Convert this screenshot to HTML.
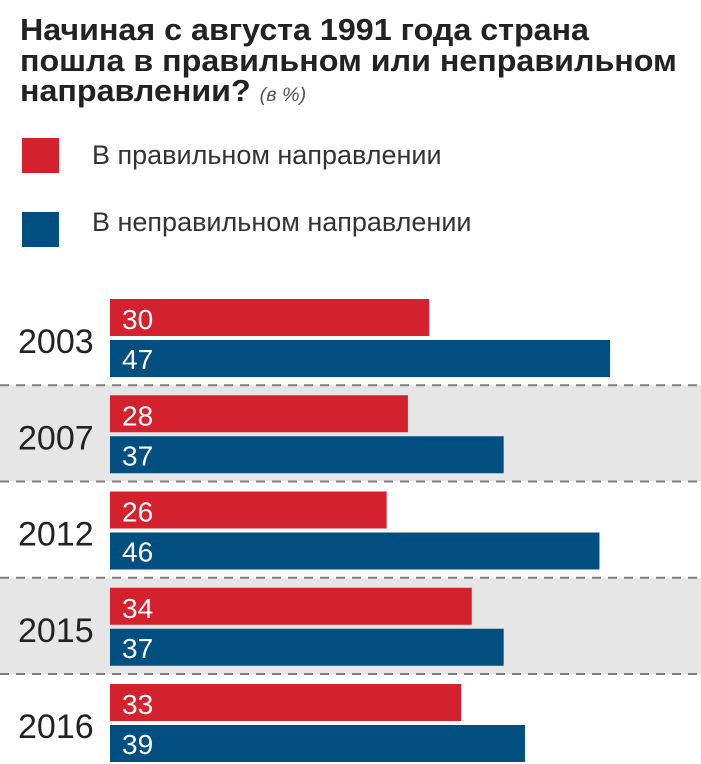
<!DOCTYPE html>
<html><head><meta charset="utf-8"><style>
body{margin:0;width:701px;height:764px;background:#fff;overflow:hidden;font-family:"Liberation Sans",sans-serif;position:relative}
.t{position:absolute;left:20px;top:15px;font-size:31px;line-height:30.5px;color:#222;letter-spacing:0px;font-weight:bold;transform:scaleX(1.04);transform-origin:0 0}
.t i{font-size:19px;color:#555;font-weight:normal}
.lg{position:absolute;left:22px;width:37px;height:35px}
.lt{position:absolute;left:92px;font-size:27px;color:#333}
</style></head><body>
<div class="t">Начиная с августа 1991 года страна<br>пошла в правильном или неправильном<br>направлении? <i>(в %)</i></div>
<div class="lg" style="top:138px;background:#d3222d"></div>
<div class="lt" style="top:140px">В правильном направлении</div>
<div class="lg" style="top:212px;background:#004f80"></div>
<div class="lt" style="top:207px">В неправильном направлении</div>
<svg id="c" width="701" height="764" style="position:absolute;left:0;top:0"></svg>
<script>
const years=["2003","2007","2012","2015","2016"];
const rightVals=[30,28,26,34,33];
const wrongVals=[47,37,46,37,39];
const svg=document.getElementById('c');
const NS='http://www.w3.org/2000/svg';
const x0=110, k=10.64, pitch=96.25, top0=299, sepOff=10;
function xs(v){return v*k;}
function ys(i){return top0+i*pitch;}
function mk(t,a){const e=document.createElementNS(NS,t);for(const n in a)e.setAttribute(n,a[n]);svg.appendChild(e);return e;}
years.forEach((y,i)=>{
  const t=ys(i);
  if(i%2==1){const b=mk('rect',{x:0,y:t-sepOff,width:701,height:pitch,fill:'#e6e6e6'});
    
    }
});
years.forEach((y,i)=>{
  const t=ys(i);
  if(i>0){const l=mk('line',{x1:0,x2:701,y1:t-sepOff,y2:t-sepOff,stroke:'#808080','stroke-width':2,'stroke-dasharray':'9 7'});
    
    }
  const r=mk('rect',{x:x0,y:t,width:xs(rightVals[i]),height:37,fill:'#d3222d'});
  
  
  const b=mk('rect',{x:x0,y:t+41,width:xs(wrongVals[i]),height:37,fill:'#004f80'});
  
  
  const tr=mk('text',{x:122,y:t+30,fill:'#fff','font-size':28,'font-family':'Liberation Sans, sans-serif'});
  tr.textContent=rightVals[i];
  
  
  const tb=mk('text',{x:122,y:t+70,fill:'#fff','font-size':28,'font-family':'Liberation Sans, sans-serif'});
  tb.textContent=wrongVals[i];
  
  
  const ty=mk('text',{x:18,y:t+54,fill:'#222','font-size':34,'font-family':'Liberation Sans, sans-serif'});
  ty.textContent=y;
  
  
});
</script>
</body></html>
